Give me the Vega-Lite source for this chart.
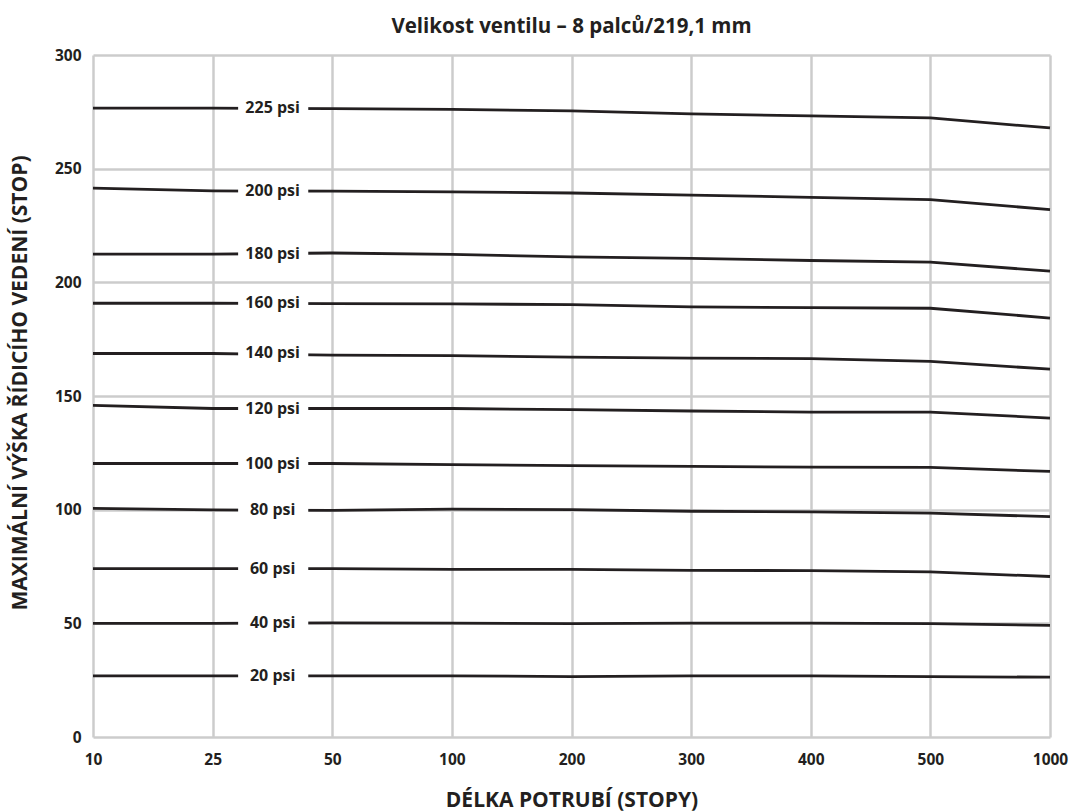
{
  "$schema": "https://vega.github.io/schema/vega-lite/v6.json",
  "width": 957,
  "height": 682,
  "autosize": {"type": "none"},
  "padding": {"left": 93, "top": 55, "right": 21, "bottom": 75},
  "background": "white",
  "title": {
    "text": "Velikost ventilu – 8 palců/219,1 mm",
    "font": "Open Sans",
    "fontSize": 20.5,
    "fontWeight": "bold",
    "color": "#231f20",
    "anchor": "middle",
    "frame": "group",
    "offset": 11
  },
  "config": {
    "view": {"stroke": null},
    "axis": {
      "grid": true,
      "gridColor": "#cccccc",
      "gridWidth": 2.5,
      "domain": false,
      "ticks": false,
      "labelFont": "Open Sans",
      "labelFontWeight": "bold",
      "labelFontSize": 15.5,
      "labelColor": "#231f20",
      "titleFont": "Open Sans",
      "titleFontWeight": "bold",
      "titleFontSize": 21,
      "titleColor": "#231f20"
    }
  },
  "data": {
    "values": [
      {"p": "225 psi", "len": 10, "h": 276.6}, {"p": "225 psi", "len": 25, "h": 276.6}, {"p": "225 psi", "len": 50, "h": 276.4}, {"p": "225 psi", "len": 100, "h": 276.1}, {"p": "225 psi", "len": 200, "h": 275.4}, {"p": "225 psi", "len": 300, "h": 274.1}, {"p": "225 psi", "len": 400, "h": 273.2}, {"p": "225 psi", "len": 500, "h": 272.3}, {"p": "225 psi", "len": 1000, "h": 267.9},
      {"p": "200 psi", "len": 10, "h": 241.4}, {"p": "200 psi", "len": 25, "h": 240.2}, {"p": "200 psi", "len": 50, "h": 240.1}, {"p": "200 psi", "len": 100, "h": 239.8}, {"p": "200 psi", "len": 200, "h": 239.3}, {"p": "200 psi", "len": 300, "h": 238.4}, {"p": "200 psi", "len": 400, "h": 237.4}, {"p": "200 psi", "len": 500, "h": 236.4}, {"p": "200 psi", "len": 1000, "h": 232.0},
      {"p": "180 psi", "len": 10, "h": 212.4}, {"p": "180 psi", "len": 25, "h": 212.4}, {"p": "180 psi", "len": 50, "h": 212.9}, {"p": "180 psi", "len": 100, "h": 212.3}, {"p": "180 psi", "len": 200, "h": 211.2}, {"p": "180 psi", "len": 300, "h": 210.5}, {"p": "180 psi", "len": 400, "h": 209.6}, {"p": "180 psi", "len": 500, "h": 208.9}, {"p": "180 psi", "len": 1000, "h": 204.9},
      {"p": "160 psi", "len": 10, "h": 190.8}, {"p": "160 psi", "len": 25, "h": 190.8}, {"p": "160 psi", "len": 50, "h": 190.6}, {"p": "160 psi", "len": 100, "h": 190.5}, {"p": "160 psi", "len": 200, "h": 190.2}, {"p": "160 psi", "len": 300, "h": 189.2}, {"p": "160 psi", "len": 400, "h": 188.9}, {"p": "160 psi", "len": 500, "h": 188.6}, {"p": "160 psi", "len": 1000, "h": 184.3},
      {"p": "140 psi", "len": 10, "h": 168.7}, {"p": "140 psi", "len": 25, "h": 168.7}, {"p": "140 psi", "len": 50, "h": 168.0}, {"p": "140 psi", "len": 100, "h": 167.8}, {"p": "140 psi", "len": 200, "h": 167.1}, {"p": "140 psi", "len": 300, "h": 166.7}, {"p": "140 psi", "len": 400, "h": 166.4}, {"p": "140 psi", "len": 500, "h": 165.2}, {"p": "140 psi", "len": 1000, "h": 161.8},
      {"p": "120 psi", "len": 10, "h": 145.9}, {"p": "120 psi", "len": 25, "h": 144.5}, {"p": "120 psi", "len": 50, "h": 144.5}, {"p": "120 psi", "len": 100, "h": 144.5}, {"p": "120 psi", "len": 200, "h": 144.0}, {"p": "120 psi", "len": 300, "h": 143.4}, {"p": "120 psi", "len": 400, "h": 142.9}, {"p": "120 psi", "len": 500, "h": 142.9}, {"p": "120 psi", "len": 1000, "h": 140.3},
      {"p": "100 psi", "len": 10, "h": 120.3}, {"p": "100 psi", "len": 25, "h": 120.3}, {"p": "100 psi", "len": 50, "h": 120.3}, {"p": "100 psi", "len": 100, "h": 119.8}, {"p": "100 psi", "len": 200, "h": 119.4}, {"p": "100 psi", "len": 300, "h": 119.0}, {"p": "100 psi", "len": 400, "h": 118.7}, {"p": "100 psi", "len": 500, "h": 118.6}, {"p": "100 psi", "len": 1000, "h": 116.8},
      {"p": "80 psi", "len": 10, "h": 100.6}, {"p": "80 psi", "len": 25, "h": 99.9}, {"p": "80 psi", "len": 50, "h": 99.7}, {"p": "80 psi", "len": 100, "h": 100.2}, {"p": "80 psi", "len": 200, "h": 100.0}, {"p": "80 psi", "len": 300, "h": 99.3}, {"p": "80 psi", "len": 400, "h": 99.0}, {"p": "80 psi", "len": 500, "h": 98.5}, {"p": "80 psi", "len": 1000, "h": 96.9},
      {"p": "60 psi", "len": 10, "h": 74.1}, {"p": "60 psi", "len": 25, "h": 74.1}, {"p": "60 psi", "len": 50, "h": 74.1}, {"p": "60 psi", "len": 100, "h": 73.7}, {"p": "60 psi", "len": 200, "h": 73.7}, {"p": "60 psi", "len": 300, "h": 73.3}, {"p": "60 psi", "len": 400, "h": 73.2}, {"p": "60 psi", "len": 500, "h": 72.6}, {"p": "60 psi", "len": 1000, "h": 70.6},
      {"p": "40 psi", "len": 10, "h": 50.0}, {"p": "40 psi", "len": 25, "h": 50.0}, {"p": "40 psi", "len": 50, "h": 50.2}, {"p": "40 psi", "len": 100, "h": 50.1}, {"p": "40 psi", "len": 200, "h": 49.9}, {"p": "40 psi", "len": 300, "h": 50.1}, {"p": "40 psi", "len": 400, "h": 50.1}, {"p": "40 psi", "len": 500, "h": 49.9}, {"p": "40 psi", "len": 1000, "h": 49.1},
      {"p": "20 psi", "len": 10, "h": 26.9}, {"p": "20 psi", "len": 25, "h": 26.9}, {"p": "20 psi", "len": 50, "h": 26.9}, {"p": "20 psi", "len": 100, "h": 26.9}, {"p": "20 psi", "len": 200, "h": 26.6}, {"p": "20 psi", "len": 300, "h": 26.9}, {"p": "20 psi", "len": 400, "h": 26.9}, {"p": "20 psi", "len": 500, "h": 26.6}, {"p": "20 psi", "len": 1000, "h": 26.3}
    ]
  },
  "layer": [
    {
      "mark": {"type": "line", "color": "#231f20", "strokeWidth": 2.8},
      "encoding": {
        "x": {
          "field": "len",
          "type": "ordinal",
          "scale": {"type": "point", "padding": 0},
          "axis": {
            "title": "DÉLKA POTRUBÍ (STOPY)",
            "labelAngle": 0,
            "labelPadding": 15,
            "titleY": 69,
            "titleBaseline": "alphabetic"
          }
        },
        "y": {
          "field": "h",
          "type": "quantitative",
          "scale": {"domain": [0, 300], "nice": false},
          "axis": {
            "title": "MAXIMÁLNÍ VÝŠKA ŘÍDICÍHO VEDENÍ (STOP)",
            "values": [0, 50, 100, 150, 200, 250, 300],
            "labelPadding": 12,
            "titleX": -73,
            "titleY": 327.5,
            "titleBaseline": "middle"
          }
        },
        "detail": {"field": "p"}
      }
    },
    {
      "transform": [{"filter": "datum.len == 25"}],
      "mark": {"type": "rule", "color": "white", "strokeWidth": 8, "xOffset": 25.5, "x2Offset": -24},
      "encoding": {
        "x": {"datum": 25, "type": "ordinal"},
        "x2": {"datum": 50},
        "y": {"field": "h", "type": "quantitative"}
      }
    },
    {
      "transform": [{"filter": "datum.len == 25"}],
      "mark": {"type": "text", "dx": 60, "align": "center", "baseline": "middle", "font": "Open Sans", "fontWeight": "bold", "fontSize": 16, "color": "#231f20"},
      "encoding": {
        "x": {"field": "len", "type": "ordinal"},
        "y": {"field": "h", "type": "quantitative"},
        "text": {"field": "p"}
      }
    }
  ]
}
